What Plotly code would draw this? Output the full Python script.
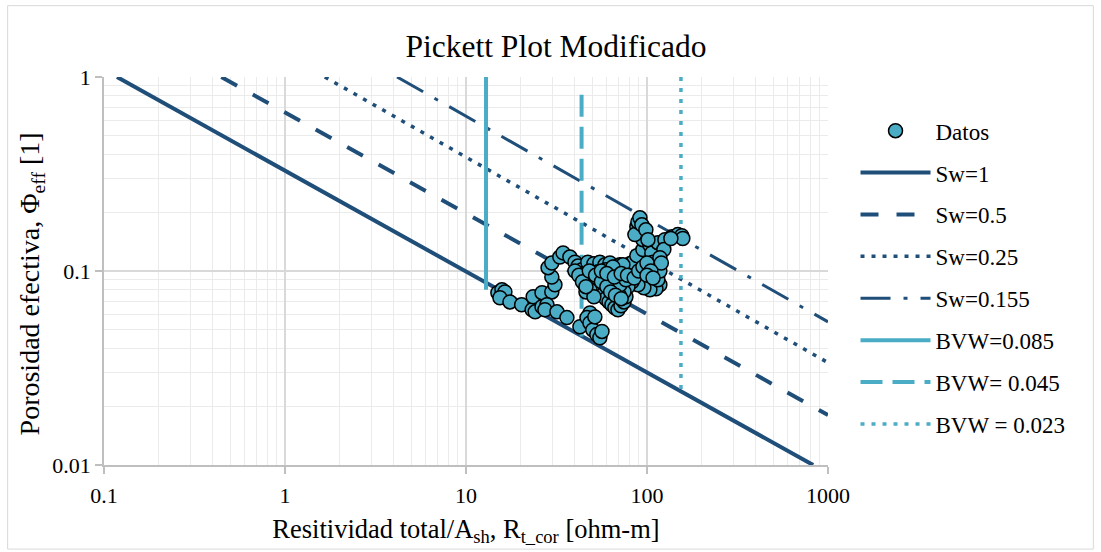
import plotly.graph_objects as go

# ---------------- data ----------------
datos_rt = [15.0, 15.8, 16.4, 15.4, 17.5, 20.3, 23.2, 24.1, 23.5, 26.3, 29.8, 31.0, 29.8, 28.4, 29.8, 33.0, 34.4,
            26.3, 28.0, 27.3, 31.8, 36.1, 42.6,
            48.4, 46.6, 48.4, 50.2, 52.8, 54.9, 56.4, 51.5,
            37.5, 40.0, 41.6, 43.7, 45.4, 47.1, 49.0, 50.9, 52.8, 54.9, 57.2, 59.3, 61.7, 64.0, 66.5, 69.1, 71.8, 74.6, 76.5,
            47.1, 50.9, 54.9, 58.6, 62.4, 66.5, 70.9, 76.5, 80.5, 86.9, 92.5, 97.3, 103.7, 110.6, 114.8, 117.8, 112.0, 103.7,
            96.1, 89.1, 82.6, 78.5, 74.6, 70.0,
            53.6, 57.8, 62.4, 67.3, 64.0, 70.9, 76.5, 82.6, 69.1, 59.3, 51.5, 48.4, 45.4, 44.3, 46.0, 50.9,
            83.6, 87.9, 94.9, 94.9, 87.9, 85.7, 89.1, 91.4, 93.7, 98.6, 103.7, 106.4, 107.7, 114.8, 110.6, 114.8,
            114.8, 125.6, 137.4, 148.0, 155.6, 157.7, 123.9, 135.5, 101.2, 117.8, 73.6, 64.8, 117.8, 120.0,
            40.0, 42.0, 44.0, 46.0, 48.0, 52.0, 56.0, 60.0, 63.0, 67.0, 72.0, 56.0, 60.0, 66.0, 72.0, 78.0,
            85.0, 90.0, 95.0, 100.0, 105.0, 100.0, 108.0]
datos_phi = [0.0773, 0.080, 0.078, 0.0728, 0.0693, 0.067, 0.0631, 0.0616, 0.0737, 0.0773, 0.078, 0.0849, 0.093, 0.104, 0.110, 0.118, 0.124,
             0.0654, 0.067, 0.0631, 0.0616, 0.0575, 0.0516,
             0.0608, 0.0575, 0.054, 0.0497, 0.047, 0.0453, 0.0488, 0.058,
             0.118, 0.111, 0.106, 0.1014, 0.098, 0.093, 0.089, 0.0849, 0.081, 0.078, 0.0754, 0.0719, 0.0693, 0.067, 0.0646, 0.0631, 0.0662, 0.0693, 0.0737,
             0.111, 0.109, 0.111, 0.1076, 0.110, 0.105, 0.1076, 0.104, 0.109, 0.1014, 0.0955, 0.0901, 0.0859, 0.0901, 0.0955, 0.0849, 0.081, 0.080,
             0.0819, 0.0849, 0.088, 0.0829, 0.0781, 0.0754,
             0.099, 0.0922, 0.0955, 0.0901, 0.0829, 0.0849, 0.0901, 0.0955, 0.099, 0.1014, 0.0901, 0.080, 0.0849, 0.0922, 0.078, 0.0737,
             0.111, 0.120, 0.129, 0.145, 0.169, 0.154, 0.179, 0.188, 0.173, 0.163, 0.136, 0.124, 0.111, 0.105, 0.0955, 0.0901,
             0.140, 0.145, 0.150, 0.154, 0.152, 0.147, 0.129, 0.147, 0.145, 0.117, 0.1076, 0.105, 0.100, 0.110,
             0.100, 0.095, 0.088, 0.083, 0.100, 0.095, 0.088, 0.083, 0.078, 0.075, 0.072, 0.100, 0.097, 0.093, 0.097, 0.095,
             0.092, 0.100, 0.105, 0.110, 0.100, 0.095, 0.092]

sw_labels = ["Sw=1", "Sw=0.5", "Sw=0.25", "Sw=0.155"]
sw_x = [[0.118, 828.0], [0.445, 1000.0], [1.66, 1000.0], [4.16, 1000.0]]
sw_y = [[1.0, 0.01], [1.0, 0.0181], [1.0, 0.0337], [1.0, 0.0547]]

bvw_labels = ["BVW=0.085", "BVW= 0.045", "BVW = 0.023"]
bvw_x = [12.9, 43.5, 154.0]
bvw_y_top = [1.0, 0.81, 1.0]
bvw_y_bot = [0.08, 0.046, 0.023]

x_ticks = [0.1, 1, 10, 100, 1000]
x_ticktext = ["0.1", "1", "10", "100", "1000"]
y_ticks = [0.01, 0.1, 1]
y_ticktext = ["0.01", "0.1", "1"]

# ---------------- styles ----------------
DARK = "#1F4E79"
LIGHT = "#4BACC6"
FONT = "Liberation Serif, Times New Roman, serif"
sw_dash = ["solid", "18px,18px", "4px,7px", "30px,13px,4px,13px"]
sw_width = [4, 4, 3.5, 3]
bvw_dash = ["solid", "22px,10px", "4px,7px"]
bvw_width = [4, 4, 3.5]

fig = go.Figure()
rank = 2
for lab, xs, ys, d, w in zip(sw_labels, sw_x, sw_y, sw_dash, sw_width):
    fig.add_trace(go.Scatter(x=xs, y=ys, mode="lines", name=lab, legendgroup=lab, legendrank=rank,
                             line=dict(color=DARK, width=w, dash=d)))
    rank += 1
for lab, xv, yt, yb, d, w in zip(bvw_labels, bvw_x, bvw_y_top, bvw_y_bot, bvw_dash, bvw_width):
    fig.add_trace(go.Scatter(x=[xv, xv], y=[yt, yb], mode="lines", name=lab, legendgroup=lab, legendrank=rank,
                             line=dict(color=LIGHT, width=w, dash=d)))
    rank += 1

fig.add_trace(go.Scatter(x=datos_rt, y=datos_phi, mode="markers", name="Datos", legendgroup="Datos", legendrank=1,
                         marker=dict(size=14, color=LIGHT, line=dict(color="black", width=1.5))))

minor_x = [k * 10.0 ** e for e in range(-1, 3) for k in range(2, 10)]
minor_y = [k * 10.0 ** e for e in range(-2, 0) for k in range(2, 10)]

fig.update_layout(
    width=1101, height=552,
    margin=dict(l=103.5, r=272.7, t=77.3, b=87),
    paper_bgcolor="white", plot_bgcolor="white",
    font=dict(family=FONT, color="black", size=22),
    title=dict(text="Pickett Plot Modificado", x=556 / 1101, xanchor="center", y=1 - 46 / 552, yanchor="middle",
               font=dict(family=FONT, size=31.5, color="black")),
    showlegend=True,
    legend=dict(x=1.038, xanchor="left", y=0.917, yanchor="top", font=dict(family=FONT, size=23, color="black"),
                tracegroupgap=9, traceorder="grouped", itemwidth=70, bgcolor="rgba(0,0,0,0)"),
    xaxis=dict(type="log", range=[-1, 3], tickvals=x_ticks, ticktext=x_ticktext,
               showgrid=True, gridcolor="#D9D9D9", gridwidth=1.5,
               showline=True, linecolor="#BFBFBF", linewidth=1.5,
               ticks="outside", ticklen=7, tickcolor="#BFBFBF", tickwidth=1.5, ticklabelstandoff=3,
               tickfont=dict(family=FONT, size=22, color="black"),
               minor=dict(tickvals=minor_x, showgrid=True, gridcolor="#EBEBEB", gridwidth=1, ticks=""),
               zeroline=False,
               title=dict(text="Resitividad total/A<sub>sh</sub>, R<sub>t_cor</sub> [ohm-m]",
                          font=dict(family=FONT, size=26.5, color="black"), standoff=12)),
    yaxis=dict(type="log", range=[-2, 0], tickvals=y_ticks, ticktext=y_ticktext,
               showgrid=True, gridcolor="#D9D9D9", gridwidth=1.5,
               showline=True, linecolor="#BFBFBF", linewidth=1.5,
               ticks="outside", ticklen=7, tickcolor="#BFBFBF", tickwidth=1.5,
               tickfont=dict(family=FONT, size=22, color="black"),
               minor=dict(tickvals=minor_y, showgrid=True, gridcolor="#EBEBEB", gridwidth=1, ticks=""),
               zeroline=False),
    annotations=[dict(text="Porosidad efectiva, Φ<sub>eff</sub> [1]", textangle=-90,
                      xref="paper", yref="paper", x=(31 - 103.5) / 724.8, y=(465 - 284) / 387.7,
                      xanchor="center", yanchor="middle", showarrow=False,
                      font=dict(family=FONT, size=28, color="black"))],
    shapes=[dict(type="rect", xref="paper", yref="paper", x0=-0.1331, x1=1.3665, y0=-0.2167, y1=1.1839,
                 line=dict(color="#D9D9D9", width=1), fillcolor="rgba(0,0,0,0)", layer="below")],
)

fig.write_html("out.html", config={"displayModeBar": False},
               post_script="document.body.style.margin='0px';")
